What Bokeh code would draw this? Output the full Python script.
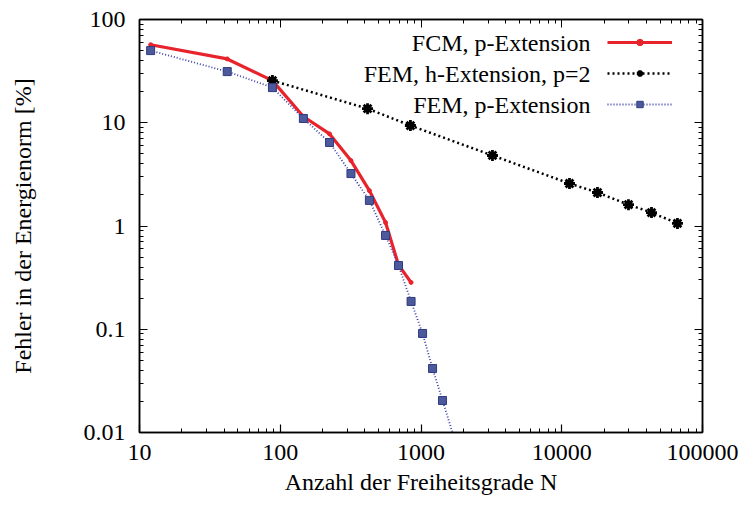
from bokeh.plotting import figure
from bokeh.models import LogAxis, FixedTicker, Legend, LegendItem, Label
from bokeh.embed import file_html
from bokeh.resources import INLINE

# ---- data ----
fcm_N = [12, 42, 88, 146, 224, 318, 430, 560, 692, 850]
fcm_E = [57, 41.5, 25.6, 11.5, 7.8, 4.3, 2.2, 1.08, 0.42, 0.284]

femh_N = [88, 417, 841, 3220, 11350, 17940, 29800, 43400, 66400]
femh_E = [25.6, 13.7, 9.4, 4.82, 2.58, 2.11, 1.61, 1.35, 1.06]

femp_N = [12, 42, 88, 146, 224, 318, 430, 560, 692, 850, 1026, 1208, 1422, 1972]
femp_E = [50, 31.3, 21.9, 11.0, 6.44, 3.22, 1.77, 0.81, 0.414, 0.186, 0.091, 0.0417, 0.0204, 0.0049]

x_ticks = [10, 100, 1000, 10000, 100000]
x_tick_labels = ["10", "100", "1000", "10000", "100000"]
y_ticks = [0.01, 0.1, 1, 10, 100]
y_tick_labels = ["0.01", "0.1", "1", "10", "100"]

series_labels = ["FCM, p-Extension", "FEM, h-Extension, p=2", "FEM, p-Extension"]

FONT = "Liberation Serif"
FS = "24px"

x_minor = [m * 10 ** k for k in range(1, 5) for m in range(2, 10)]
y_minor = [m * 10.0 ** k for k in range(-2, 2) for m in range(2, 10)]

p = figure(width=754, height=509, x_axis_type="log", y_axis_type="log",
           x_range=(10, 100000), y_range=(0.01, 100),
           output_backend="svg", toolbar_location=None,
           min_border_left=139, min_border_right=52,
           min_border_top=19, min_border_bottom=77)
p.background_fill_color = "white"
p.border_fill_color = "white"
p.grid.visible = False
p.outline_line_color = "black"
p.outline_line_width = 1.5

xt = FixedTicker(ticks=x_ticks, minor_ticks=x_minor)
yt = FixedTicker(ticks=y_ticks, minor_ticks=y_minor)

p.xaxis.ticker = xt
p.yaxis.ticker = yt
p.xaxis.major_label_overrides = dict(zip(x_ticks, x_tick_labels))
p.yaxis.major_label_overrides = dict(zip(y_ticks, y_tick_labels))

p.xaxis.axis_label = "Anzahl der Freiheitsgrade N"
p.yaxis.axis_label = "Fehler in der Energienorm [%]"

for ax in (p.xaxis[0], p.yaxis[0]):
    ax.axis_label_text_font = FONT
    ax.axis_label_text_font_size = FS
    ax.axis_label_text_font_style = "normal"
    ax.axis_label_text_color = "black"
    ax.major_label_text_font = FONT
    ax.major_label_text_font_size = FS
    ax.major_label_text_color = "black"
    ax.major_tick_in = 8
    ax.major_tick_out = 0
    ax.minor_tick_in = 4
    ax.minor_tick_out = 0
    ax.axis_line_color = "black"
    ax.axis_line_width = 1.5
    ax.major_tick_line_width = 1.2
    ax.minor_tick_line_width = 1.0

p.xaxis.major_label_standoff = 12
p.xaxis.axis_label_standoff = 6
p.yaxis.major_label_standoff = 14
p.yaxis.axis_label_standoff = 45

# mirror axes (ticks only)
top = LogAxis(ticker=FixedTicker(ticks=x_ticks, minor_ticks=x_minor))
right = LogAxis(ticker=FixedTicker(ticks=y_ticks, minor_ticks=y_minor))
for ax in (top, right):
    ax.major_label_text_font_size = "4px"
    ax.major_label_text_color = None
    ax.major_label_standoff = 0
    ax.major_tick_in = 8
    ax.major_tick_out = 0
    ax.minor_tick_in = 4
    ax.minor_tick_out = 0
    ax.axis_line_color = "black"
    ax.axis_line_width = 1.5
p.add_layout(top, "above")
p.add_layout(right, "right")

# ---- series ----
r1l = p.line(fcm_N, fcm_E, line_color="#e8232c", line_width=3.2)
r1m = p.scatter(fcm_N, fcm_E, marker="circle", size=4, fill_color="#e8232c", line_color="#e8232c")

r2l = p.line(femh_N, femh_E, line_color="black", line_width=2.5, line_dash="2 3")
r2m = p.scatter(femh_N, femh_E, marker="asterisk", size=11, line_color="black", line_width=2.8)

r3l = p.line(femp_N, femp_E, line_color="#3b3fa8", line_width=1.8, line_dash="1 2")
r3m = p.scatter(femp_N, femp_E, marker="square", size=8, fill_color="#4c5a9c", line_color="#2e3a80", line_width=1)

legend = Legend(items=[LegendItem(label="_", renderers=[r1l, r1m]),
                       LegendItem(label="_", renderers=[r2l, r2m]),
                       LegendItem(label="_", renderers=[r3l, r3m])],
                location=(468, 313), glyph_width=65, glyph_height=16,
                label_height=30, label_width=1, spacing=1, padding=0, margin=0,
                label_standoff=0, label_text_font_size="4px", label_text_color=None,
                border_line_alpha=0, background_fill_alpha=0)
p.add_layout(legend)

for i, txt in enumerate(series_labels):
    p.add_layout(Label(x=451, y=390 - 31 * i, x_units="screen", y_units="screen",
                       text=txt, text_align="right", text_baseline="middle",
                       text_font=FONT, text_font_size=FS, text_color="black"))

open("out.html", "w").write(file_html(p, INLINE))
